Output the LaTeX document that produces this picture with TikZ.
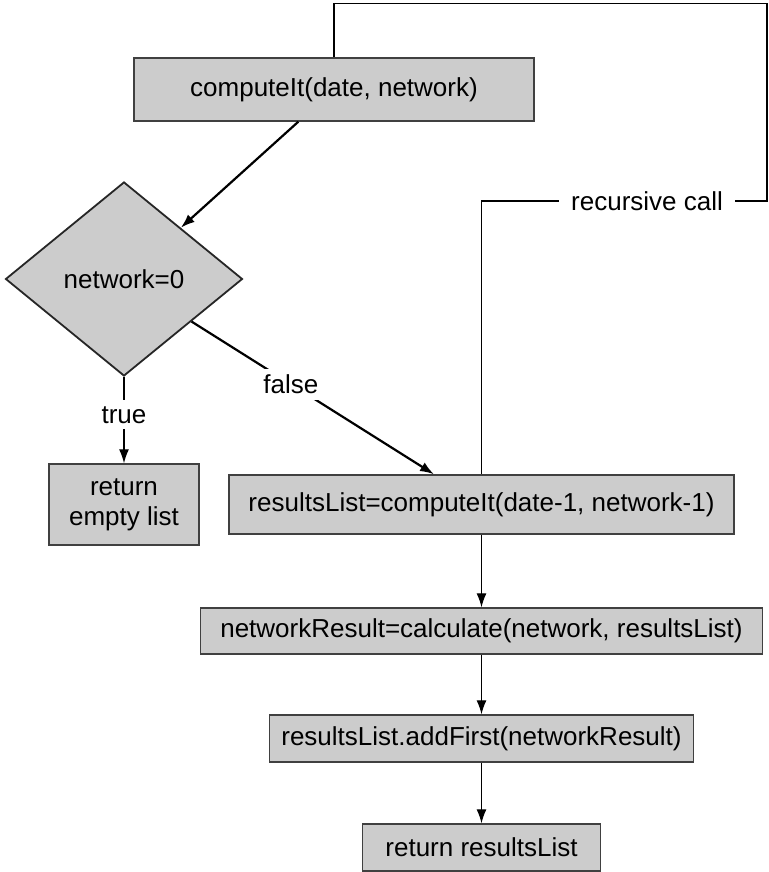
\documentclass[tikz,border=0pt]{standalone}
\usepackage{fontspec}
\setmainfont{Liberation Sans}
\usetikzlibrary{shapes.geometric, arrows.meta, positioning}

\begin{document}
\begin{tikzpicture}[font=\fontsize{13pt}{15pt}\selectfont]
    \tikzstyle{process} = [rectangle, draw=black!75, line width=0.7pt, fill=black!20, inner sep=0pt]
    \tikzstyle{decision} = [diamond, draw=black!85, line width=0.9pt, fill=black!20, inner sep=0pt, minimum width=118.5pt, minimum height=97pt]
    \tikzstyle{arrow} = [-{Latex[length=7pt,width=5pt]}, line width=1.1pt]
    \tikzstyle{thinarrow} = [-{Latex[length=7pt,width=5pt]}, line width=0.65pt]
    \tikzstyle{loopline} = [line width=0.65pt]
    \tikzstyle{cond} = [fill=white, inner sep=3pt]
    \useasboundingbox (-167pt,44.75pt) rectangle (217.5pt,-391.25pt);
    \node (comp) [process, minimum width=200pt, minimum height=31.5pt] {computeIt(date, network)};
    \node (dec) [decision, below of=comp, xshift=-105pt, node distance=94.75pt] {network=0};
    \node[align=center] (empty) [process, below of=dec, node distance=112.75pt, minimum width=75pt, minimum height=40.5pt] {return\\empty list};
    \node (rlist) [process, right of=empty, node distance=178.75pt, minimum width=252.5pt, minimum height=29.5pt] {resultsList=computeIt(date-1, network-1)};
    \node (nres) [process, below of=rlist, node distance=63.25pt, minimum width=281pt, minimum height=23pt] {networkResult=calculate(network, resultsList)};
    \node (addf) [process, below of=nres, node distance=53.75pt, minimum width=212pt, minimum height=23.5pt] {resultsList.addFirst(networkResult)};
    \node (ret) [process, below of=addf, node distance=54.5pt, minimum width=119pt, minimum height=23.5pt] {return resultsList};
    % recursion goes back up and over
    \coordinate (loopTop) at ([yshift=27pt]comp.north);
    \coordinate (loopRight) at (216.5pt,-55.75pt);
    \draw [loopline] (comp.north) -- (loopTop) -| (loopRight) -- node[cond, pos=0.42, inner xsep=6pt] {recursive call} (loopRight -| rlist.north) -- (rlist.north);
    \draw [arrow] (comp) -- (dec);
    \draw [thinarrow] (dec) -- node[cond, pos=0.44] {true} (empty);
    \draw [arrow] (dec) -- node[cond, pos=0.41] {false} ([xshift=-23.75pt]rlist.north);
    \draw [thinarrow] (rlist) -- (nres);
    \draw [thinarrow] (nres) -- (addf);
    \draw [thinarrow] (addf) -- (ret);
\end{tikzpicture}
\end{document}
